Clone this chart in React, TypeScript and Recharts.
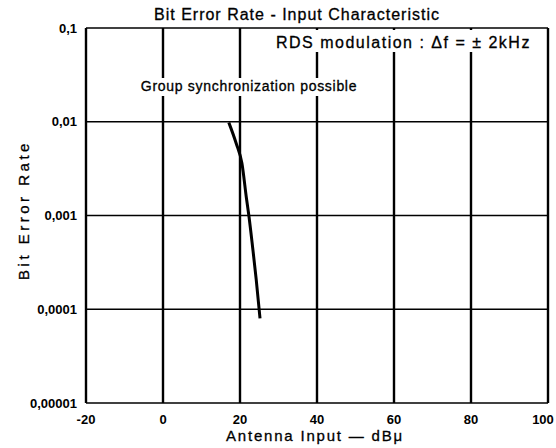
import React from "react";
import { LineChart, Line, XAxis, YAxis, CartesianGrid } from "recharts";

const xTicks = [-20, 0, 20, 40, 60, 80, 100];
const yTicks = [0.00001, 0.0001, 0.001, 0.01, 0.1];
const yTickLabels = ["0,00001", "0,0001", "0,001", "0,01", "0,1"];

const curveInput = [17.1, 19.0, 20.5, 21.7, 22.3, 23.3, 24.2, 25.2];
const curveBer = [0.0098, 0.0059, 0.0036, 0.0015, 0.001, 0.00045, 0.00021, 0.00008];

const data = curveInput.map((x, i) => ({ x, y: curveBer[i] }));

const FONT = "'Liberation Sans', Arial, sans-serif";

const fmtY = (v: number) => {
  const i = yTicks.findIndex((t) => Math.abs(t - v) / t < 1e-6);
  return i >= 0 ? yTickLabels[i] : String(v);
};

const XTick = (props: any) => {
  const { x, y, payload } = props;
  const isLast = payload.value === xTicks[xTicks.length - 1];
  return (
    <text
      x={isLast ? x - 5 : x}
      y={y}
      dy="0.71em"
      textAnchor="middle"
      fill="#000"
      fontSize={13}
      fontWeight="bold"
      fontFamily={FONT}
    >
      {payload.value}
    </text>
  );
};

export default function App() {
  return (
    <div style={{ position: "absolute", left: 0, top: 0, width: 556, height: 448, background: "#fff" }}>
      <LineChart
        width={556}
        height={448}
        data={data}
        margin={{ top: 28, right: 8, bottom: 0, left: 0 }}
      >
        <CartesianGrid horizontal={false} stroke="#000" strokeWidth={2.4} />
        <CartesianGrid vertical={false} stroke="#000" strokeWidth={1.6} />
        <XAxis
          dataKey="x"
          type="number"
          domain={[-20, 100]}
          ticks={xTicks}
          height={45}
          axisLine={false}
          tickLine={false}
          tickMargin={6}
          interval={0}
          tick={<XTick />}
        />
        <YAxis
          dataKey="y"
          type="number"
          scale="log"
          domain={[0.00001, 0.1]}
          ticks={yTicks}
          width={86}
          axisLine={false}
          tickLine={false}
          tickMargin={3}
          interval={0}
          allowDataOverflow
          tickFormatter={fmtY}
          tick={{ fill: "#000", fontSize: 13, fontWeight: "bold", fontFamily: FONT }}
        />
        <Line
          dataKey="y"
          type="monotone"
          stroke="#000"
          strokeWidth={3}
          dot={false}
          isAnimationActive={false}
        />
      </LineChart>
      <svg
        width={556}
        height={448}
        style={{ position: "absolute", left: 0, top: 0, pointerEvents: "none" }}
      >
        <text x={297} y={20} textAnchor="middle" fontFamily={FONT} fontSize={16} fill="#000" stroke="#000" strokeWidth={0.3} letterSpacing={1.0}>
          Bit Error Rate - Input Characteristic
        </text>
        <rect x={268} y={30} width={278} height={22} fill="#fff" />
        <text x={276} y={48} fontFamily={FONT} fontSize={16} fill="#000" stroke="#000" strokeWidth={0.3} letterSpacing={1.5}>
          RDS modulation : Δf = ± 2kHz
        </text>
        <rect x={138} y={78} width={224} height={18} fill="#fff" />
        <text x={249} y={91} textAnchor="middle" fontFamily={FONT} fontSize={14} fill="#000" stroke="#000" strokeWidth={0.3} letterSpacing={0.7}>
          Group synchronization possible
        </text>
        <text
          x={0}
          y={0}
          transform="translate(29,210) rotate(-90)"
          textAnchor="middle"
          fontFamily={FONT}
          fontSize={15}
          fill="#000"
          stroke="#000"
          strokeWidth={0.3}
          letterSpacing={3.5}
        >
          Bit Error Rate
        </text>
        <text x={315} y={441} textAnchor="middle" fontFamily={FONT} fontSize={15} fill="#000" stroke="#000" strokeWidth={0.3} letterSpacing={1.8}>
          Antenna Input — dBμ
        </text>
      </svg>
    </div>
  );
}
